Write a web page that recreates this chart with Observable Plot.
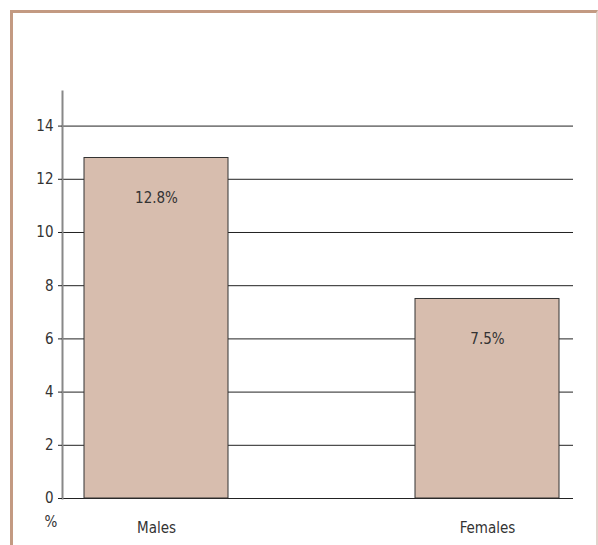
<!DOCTYPE html>
<html>
<head>
<meta charset="utf-8">
<script src="https://cdn.jsdelivr.net/npm/d3@7"></script>
<script src="https://cdn.jsdelivr.net/npm/@observablehq/plot@0.6"></script>
<style>
  html, body { margin: 0; padding: 0; background: #fff; }
  #wrap { position: relative; width: 598px; height: 545px; overflow: hidden; }
  #frame {
    position: absolute; left: 10px; top: 10px; width: 588px; height: 600px;
    border-top: 3px solid #c39a82; border-left: 3px solid #c39a82;
    border-right: 2px solid #e3d3cc; box-sizing: border-box;
  }
  #chart { position: absolute; left: 0; top: 0; }
  #chart svg, #chart svg text { font-family: "DejaVu Sans", sans-serif; font-stretch: condensed; }
</style>
</head>
<body>
<div id="wrap">
  <div id="frame"></div>
  <div id="chart"></div>
</div>
<script>
// Share of population, by sex (%)
const categories = ["Males", "Females"];
const values = [12.8, 7.5];
const valueLabels = ["12.8%", "7.5%"];
const yTicks = [0, 2, 4, 6, 8, 10, 12, 14];
const unitLabel = "%";

const data = categories.map((c, i) => ({sex: c, value: values[i], label: valueLabels[i]}));

const chart = Plot.plot({
  width: 598,
  height: 545,
  marginLeft: 62,
  marginRight: 25,
  marginTop: 91,
  marginBottom: 47,
  style: {fontSize: "14px", color: "#333", background: "transparent"},
  x: {type: "band", domain: categories, paddingInner: 0.565, paddingOuter: 0.054, align: 0.61},
  y: {domain: [0, 15.3]},
  marks: [
    Plot.ruleY(yTicks, {stroke: "#222", strokeWidth: 1}),
    Plot.barY(data, {x: "sex", y: "value", fill: "#d7bdae", stroke: "#333", strokeWidth: 1}),
    Plot.text(data, {x: "sex", y: "value", text: "label", dy: 40, fontSize: 15, fill: "#333"}),
    Plot.frame({anchor: "left", stroke: "#888", strokeWidth: 2}),
    Plot.axisY({ticks: yTicks, tickSize: 4, tickPadding: 5, label: null, fontSize: 15, stroke: "#222"}),
    Plot.axisX({tickSize: 0, tickPadding: 24, label: null, fontSize: 15}),
    Plot.text([unitLabel], {frameAnchor: "bottom-left", text: d => d, dx: -18, dy: 28, fontSize: 15, fill: "#333"})
  ]
});

document.getElementById("chart").append(chart);
</script>
</body>
</html>
